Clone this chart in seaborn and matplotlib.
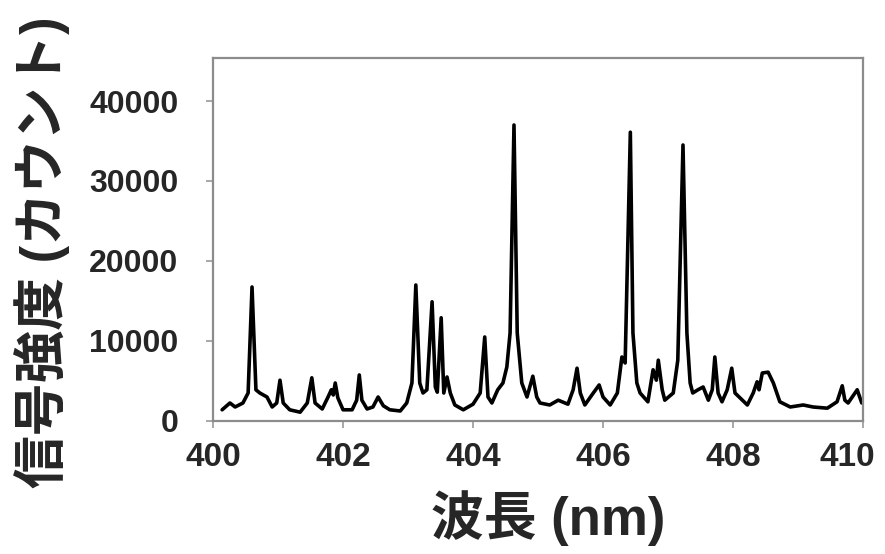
import matplotlib.pyplot as plt
import matplotlib.transforms as mtransforms
import pandas as pd
import seaborn as sns

# spectrum (nm, counts)
wavelength = [
    400.14, 400.26, 400.34, 400.46, 400.54, 400.60, 400.66, 400.72, 400.83, 400.91,
    400.98, 401.03, 401.08, 401.18, 401.34, 401.45, 401.52, 401.57, 401.68, 401.77,
    401.82, 401.85, 401.88, 401.92, 402.00, 402.14, 402.21, 402.25, 402.29, 402.37,
    402.46, 402.54, 402.62, 402.72, 402.88, 402.98, 403.06, 403.12, 403.18, 403.23,
    403.29, 403.37, 403.42, 403.45, 403.51, 403.55, 403.60, 403.65, 403.72, 403.85,
    404.00, 404.11, 404.18, 404.23, 404.29, 404.38, 404.46, 404.52, 404.57, 404.63,
    404.68, 404.75, 404.83, 404.92, 404.98, 405.03, 405.18, 405.31, 405.46, 405.54,
    405.60, 405.65, 405.72, 405.85, 405.94, 406.00, 406.11, 406.22, 406.29, 406.34,
    406.42, 406.46, 406.52, 406.57, 406.69, 406.77, 406.82, 406.85, 406.91, 406.95,
    407.08, 407.15, 407.23, 407.29, 407.34, 407.38, 407.46, 407.54, 407.62, 407.68,
    407.72, 407.77, 407.83, 407.91, 407.98, 408.03, 408.22, 408.31, 408.37, 408.40,
    408.45, 408.54, 408.62, 408.72, 408.88, 409.08, 409.23, 409.45, 409.60, 409.68,
    409.72, 409.77, 409.91, 409.98,
]
counts = [
    1400, 2250, 1750, 2250, 3500, 16750, 3900, 3500, 3000, 1750,
    2250, 5100, 2250, 1400, 1100, 2250, 5400, 2250, 1500, 3000,
    3900, 3250, 4750, 2900, 1400, 1400, 2600, 5750, 2600, 1500,
    1750, 3000, 1900, 1400, 1250, 2250, 4750, 17000, 4750, 3500,
    3900, 14900, 4250, 3600, 12900, 3500, 5500, 3500, 2000, 1400,
    2100, 3500, 10500, 3000, 2250, 3900, 4750, 6750, 11000, 37000,
    11000, 4750, 3000, 5600, 3000, 2250, 2000, 2600, 2100, 3900,
    6600, 3500, 2000, 3500, 4500, 3000, 2000, 3500, 8000, 7250,
    36100, 11000, 4750, 3500, 2400, 6400, 5100, 7600, 3900, 2600,
    3500, 7600, 34500, 11000, 4750, 3500, 3900, 4250, 2600, 3900,
    8000, 3500, 2400, 3900, 6600, 3500, 2000, 3500, 4900, 3900,
    6000, 6100, 4750, 2400, 1750, 2000, 1750, 1600, 2400, 4400,
    2600, 2250, 3900, 2250,
]
x_ticks = [400, 402, 404, 406, 408, 410]
y_ticks = [0, 10000, 20000, 30000, 40000]

df = pd.DataFrame({'wavelength': wavelength, 'counts': counts})

sns.set_style('white')
plt.rcParams['font.family'] = ['Liberation Sans', 'Noto Sans CJK JP', 'DejaVu Sans']

fig = plt.figure(figsize=(8.85, 5.54), dpi=100)
ax = fig.add_axes([0.2407, 0.2401, 0.7345, 0.6552])

sns.lineplot(data=df, x='wavelength', y='counts', color='black', linewidth=2.6, ax=ax)

ax.set_xlim(400, 410)
ax.set_ylim(0, 45375)
ax.set_xticks(x_ticks)
ax.set_yticks(y_ticks)
ax.set_xticklabels([str(t) for t in x_ticks], fontsize=24, fontweight='bold')
ax.set_yticklabels([str(t) for t in y_ticks], fontsize=23, fontweight='bold')
ax.tick_params(axis='x', direction='out', length=5, width=1.2, color='#999999', pad=10, bottom=True)
ax.tick_params(axis='y', direction='out', length=5, width=1.2, color='#999999', pad=20, left=True)

# the last x label sits a little left of its tick, as in the reference
last = ax.get_xticklabels()[-1]
last.set_transform(last.get_transform() + mtransforms.ScaledTranslation(-0.16, 0, fig.dpi_scale_trans))

for spine in ax.spines.values():
    spine.set_color('#8c8c8c')
    spine.set_linewidth(1.6)

ax.set_xlabel('波長 (nm)', fontsize=38, fontweight='bold')
ax.set_ylabel('信号強度 (カウント)', fontsize=38, fontweight='bold')
ax.xaxis.set_label_coords(0.515, -0.19)
ax.yaxis.set_label_coords(-0.22, 0.466)

fig.savefig('out.png', dpi=100)
